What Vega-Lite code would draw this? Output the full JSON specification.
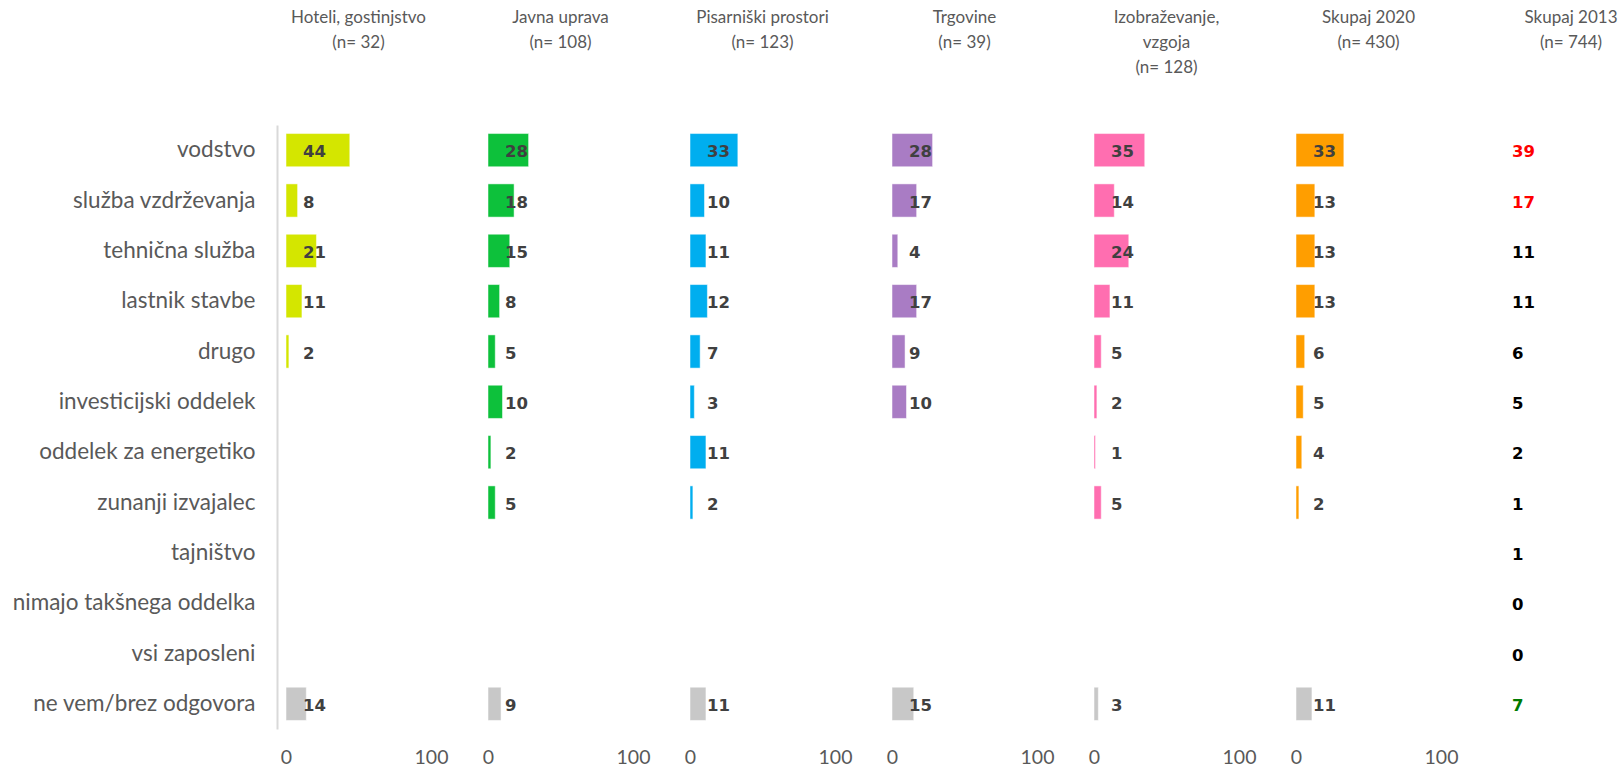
{
  "$schema": "https://vega.github.io/schema/vega-lite/v6.json",
  "padding": {"left": 12, "top": 9, "right": 5, "bottom": 0},
  "background": "white",
  "bounds": "flush",
  "spacing": 57,
  "config": {
    "view": {"stroke": null},
    "title": {"font": "Lato", "fontSize": 17, "fontWeight": "normal", "color": "#595959", "lineHeight": 25, "anchor": "middle"},
    "axisX": {"domain": false, "ticks": false, "grid": false, "title": null, "labelFont": "Lato", "labelFontSize": 19.5, "labelColor": "#595959", "labelPadding": 19, "labelFlush": false}
  },
  "data": {
    "values": [
      {"sector": "Hoteli", "category": "vodstvo", "value": 44},
      {"sector": "Hoteli", "category": "služba vzdrževanja", "value": 8},
      {"sector": "Hoteli", "category": "tehnična služba", "value": 21},
      {"sector": "Hoteli", "category": "lastnik stavbe", "value": 11},
      {"sector": "Hoteli", "category": "drugo", "value": 2},
      {"sector": "Hoteli", "category": "ne vem/brez odgovora", "value": 14},
      {"sector": "Javna", "category": "vodstvo", "value": 28},
      {"sector": "Javna", "category": "služba vzdrževanja", "value": 18},
      {"sector": "Javna", "category": "tehnična služba", "value": 15},
      {"sector": "Javna", "category": "lastnik stavbe", "value": 8},
      {"sector": "Javna", "category": "drugo", "value": 5},
      {"sector": "Javna", "category": "investicijski oddelek", "value": 10},
      {"sector": "Javna", "category": "oddelek za energetiko", "value": 2},
      {"sector": "Javna", "category": "zunanji izvajalec", "value": 5},
      {"sector": "Javna", "category": "ne vem/brez odgovora", "value": 9},
      {"sector": "Pisarniski", "category": "vodstvo", "value": 33},
      {"sector": "Pisarniski", "category": "služba vzdrževanja", "value": 10},
      {"sector": "Pisarniski", "category": "tehnična služba", "value": 11},
      {"sector": "Pisarniski", "category": "lastnik stavbe", "value": 12},
      {"sector": "Pisarniski", "category": "drugo", "value": 7},
      {"sector": "Pisarniski", "category": "investicijski oddelek", "value": 3},
      {"sector": "Pisarniski", "category": "oddelek za energetiko", "value": 11},
      {"sector": "Pisarniski", "category": "zunanji izvajalec", "value": 2},
      {"sector": "Pisarniski", "category": "ne vem/brez odgovora", "value": 11},
      {"sector": "Trgovine", "category": "vodstvo", "value": 28},
      {"sector": "Trgovine", "category": "služba vzdrževanja", "value": 17},
      {"sector": "Trgovine", "category": "tehnična služba", "value": 4},
      {"sector": "Trgovine", "category": "lastnik stavbe", "value": 17},
      {"sector": "Trgovine", "category": "drugo", "value": 9},
      {"sector": "Trgovine", "category": "investicijski oddelek", "value": 10},
      {"sector": "Trgovine", "category": "ne vem/brez odgovora", "value": 15},
      {"sector": "Izobrazevanje", "category": "vodstvo", "value": 35},
      {"sector": "Izobrazevanje", "category": "služba vzdrževanja", "value": 14},
      {"sector": "Izobrazevanje", "category": "tehnična služba", "value": 24},
      {"sector": "Izobrazevanje", "category": "lastnik stavbe", "value": 11},
      {"sector": "Izobrazevanje", "category": "drugo", "value": 5},
      {"sector": "Izobrazevanje", "category": "investicijski oddelek", "value": 2},
      {"sector": "Izobrazevanje", "category": "oddelek za energetiko", "value": 1},
      {"sector": "Izobrazevanje", "category": "zunanji izvajalec", "value": 5},
      {"sector": "Izobrazevanje", "category": "ne vem/brez odgovora", "value": 3},
      {"sector": "Skupaj2020", "category": "vodstvo", "value": 33},
      {"sector": "Skupaj2020", "category": "služba vzdrževanja", "value": 13},
      {"sector": "Skupaj2020", "category": "tehnična služba", "value": 13},
      {"sector": "Skupaj2020", "category": "lastnik stavbe", "value": 13},
      {"sector": "Skupaj2020", "category": "drugo", "value": 6},
      {"sector": "Skupaj2020", "category": "investicijski oddelek", "value": 5},
      {"sector": "Skupaj2020", "category": "oddelek za energetiko", "value": 4},
      {"sector": "Skupaj2020", "category": "zunanji izvajalec", "value": 2},
      {"sector": "Skupaj2020", "category": "ne vem/brez odgovora", "value": 11},
      {"sector": "Skupaj2013", "category": "vodstvo", "value": 39, "change": "višje"},
      {"sector": "Skupaj2013", "category": "služba vzdrževanja", "value": 17, "change": "višje"},
      {"sector": "Skupaj2013", "category": "tehnična služba", "value": 11, "change": "ni razlike"},
      {"sector": "Skupaj2013", "category": "lastnik stavbe", "value": 11, "change": "ni razlike"},
      {"sector": "Skupaj2013", "category": "drugo", "value": 6, "change": "ni razlike"},
      {"sector": "Skupaj2013", "category": "investicijski oddelek", "value": 5, "change": "ni razlike"},
      {"sector": "Skupaj2013", "category": "oddelek za energetiko", "value": 2, "change": "ni razlike"},
      {"sector": "Skupaj2013", "category": "zunanji izvajalec", "value": 1, "change": "ni razlike"},
      {"sector": "Skupaj2013", "category": "tajništvo", "value": 1, "change": "ni razlike"},
      {"sector": "Skupaj2013", "category": "nimajo takšnega oddelka", "value": 0, "change": "ni razlike"},
      {"sector": "Skupaj2013", "category": "vsi zaposleni", "value": 0, "change": "ni razlike"},
      {"sector": "Skupaj2013", "category": "ne vem/brez odgovora", "value": 7, "change": "nižje"}
    ]
  },
  "hconcat": [
    {
      "width": 145, "height": 604,
      "title": {"text": ["Hoteli, gostinjstvo", "(n= 32)"], "offset": 73},
      "transform": [{"filter": "datum.sector === 'Hoteli'"}],
      "encoding": {
        "y": {"field": "category", "type": "nominal", "title": null,
          "scale": {"domain": ["vodstvo", "služba vzdrževanja", "tehnična služba", "lastnik stavbe", "drugo", "investicijski oddelek", "oddelek za energetiko", "zunanji izvajalec", "tajništvo", "nimajo takšnega oddelka", "vsi zaposleni", "ne vem/brez odgovora"], "paddingInner": 0.34, "paddingOuter": 0.17},
          "axis": {"ticks": false, "domainColor": "#D9D9D9", "domainWidth": 2, "offset": 9, "labelPadding": 22, "labelFont": "Lato", "labelFontSize": 22.5, "labelColor": "#595959", "labelLimit": 400}}
      },
      "layer": [
        {"mark": {"type": "bar", "stroke": "white", "strokeOpacity": 0.5, "strokeWidth": 1},
         "encoding": {"x": {"field": "value", "type": "quantitative", "scale": {"domain": [0, 100]}, "axis": {"values": [0, 100]}},
           "color": {"condition": {"test": "datum.category === 'ne vem/brez odgovora'", "value": "#C8C8C8"}, "value": "#D4E600"}}},
        {"mark": {"type": "text", "align": "left", "dx": 17, "dy": 2, "font": "DejaVu Sans", "fontSize": 16.5, "fontWeight": "bold", "color": "#404040"},
         "encoding": {"x": {"datum": 0, "type": "quantitative", "scale": {"domain": [0, 100]}}, "text": {"field": "value", "type": "quantitative"}}}
      ]
    },
    {
      "width": 145, "height": 604,
      "title": {"text": ["Javna uprava", "(n= 108)"], "offset": 73},
      "transform": [{"filter": "datum.sector === 'Javna'"}],
      "encoding": {
        "y": {"field": "category", "type": "nominal", "title": null,
          "scale": {"domain": ["vodstvo", "služba vzdrževanja", "tehnična služba", "lastnik stavbe", "drugo", "investicijski oddelek", "oddelek za energetiko", "zunanji izvajalec", "tajništvo", "nimajo takšnega oddelka", "vsi zaposleni", "ne vem/brez odgovora"], "paddingInner": 0.34, "paddingOuter": 0.17},
          "axis": null}
      },
      "layer": [
        {"mark": {"type": "bar", "stroke": "white", "strokeOpacity": 0.5, "strokeWidth": 1},
         "encoding": {"x": {"field": "value", "type": "quantitative", "scale": {"domain": [0, 100]}, "axis": {"values": [0, 100]}},
           "color": {"condition": {"test": "datum.category === 'ne vem/brez odgovora'", "value": "#C8C8C8"}, "value": "#0DC13B"}}},
        {"mark": {"type": "text", "align": "left", "dx": 17, "dy": 2, "font": "DejaVu Sans", "fontSize": 16.5, "fontWeight": "bold", "color": "#404040"},
         "encoding": {"x": {"datum": 0, "type": "quantitative", "scale": {"domain": [0, 100]}}, "text": {"field": "value", "type": "quantitative"}}}
      ]
    },
    {
      "width": 145, "height": 604,
      "title": {"text": ["Pisarniški prostori", "(n= 123)"], "offset": 73},
      "transform": [{"filter": "datum.sector === 'Pisarniski'"}],
      "encoding": {
        "y": {"field": "category", "type": "nominal", "title": null,
          "scale": {"domain": ["vodstvo", "služba vzdrževanja", "tehnična služba", "lastnik stavbe", "drugo", "investicijski oddelek", "oddelek za energetiko", "zunanji izvajalec", "tajništvo", "nimajo takšnega oddelka", "vsi zaposleni", "ne vem/brez odgovora"], "paddingInner": 0.34, "paddingOuter": 0.17},
          "axis": null}
      },
      "layer": [
        {"mark": {"type": "bar", "stroke": "white", "strokeOpacity": 0.5, "strokeWidth": 1},
         "encoding": {"x": {"field": "value", "type": "quantitative", "scale": {"domain": [0, 100]}, "axis": {"values": [0, 100]}},
           "color": {"condition": {"test": "datum.category === 'ne vem/brez odgovora'", "value": "#C8C8C8"}, "value": "#00AEEF"}}},
        {"mark": {"type": "text", "align": "left", "dx": 17, "dy": 2, "font": "DejaVu Sans", "fontSize": 16.5, "fontWeight": "bold", "color": "#404040"},
         "encoding": {"x": {"datum": 0, "type": "quantitative", "scale": {"domain": [0, 100]}}, "text": {"field": "value", "type": "quantitative"}}}
      ]
    },
    {
      "width": 145, "height": 604,
      "title": {"text": ["Trgovine", "(n= 39)"], "offset": 73},
      "transform": [{"filter": "datum.sector === 'Trgovine'"}],
      "encoding": {
        "y": {"field": "category", "type": "nominal", "title": null,
          "scale": {"domain": ["vodstvo", "služba vzdrževanja", "tehnična služba", "lastnik stavbe", "drugo", "investicijski oddelek", "oddelek za energetiko", "zunanji izvajalec", "tajništvo", "nimajo takšnega oddelka", "vsi zaposleni", "ne vem/brez odgovora"], "paddingInner": 0.34, "paddingOuter": 0.17},
          "axis": null}
      },
      "layer": [
        {"mark": {"type": "bar", "stroke": "white", "strokeOpacity": 0.5, "strokeWidth": 1},
         "encoding": {"x": {"field": "value", "type": "quantitative", "scale": {"domain": [0, 100]}, "axis": {"values": [0, 100]}},
           "color": {"condition": {"test": "datum.category === 'ne vem/brez odgovora'", "value": "#C8C8C8"}, "value": "#A97CC4"}}},
        {"mark": {"type": "text", "align": "left", "dx": 17, "dy": 2, "font": "DejaVu Sans", "fontSize": 16.5, "fontWeight": "bold", "color": "#404040"},
         "encoding": {"x": {"datum": 0, "type": "quantitative", "scale": {"domain": [0, 100]}}, "text": {"field": "value", "type": "quantitative"}}}
      ]
    },
    {
      "width": 145, "height": 604,
      "title": {"text": ["Izobraževanje,", "vzgoja", "(n= 128)"], "offset": 48},
      "transform": [{"filter": "datum.sector === 'Izobrazevanje'"}],
      "encoding": {
        "y": {"field": "category", "type": "nominal", "title": null,
          "scale": {"domain": ["vodstvo", "služba vzdrževanja", "tehnična služba", "lastnik stavbe", "drugo", "investicijski oddelek", "oddelek za energetiko", "zunanji izvajalec", "tajništvo", "nimajo takšnega oddelka", "vsi zaposleni", "ne vem/brez odgovora"], "paddingInner": 0.34, "paddingOuter": 0.17},
          "axis": null}
      },
      "layer": [
        {"mark": {"type": "bar", "stroke": "white", "strokeOpacity": 0.5, "strokeWidth": 1},
         "encoding": {"x": {"field": "value", "type": "quantitative", "scale": {"domain": [0, 100]}, "axis": {"values": [0, 100]}},
           "color": {"condition": {"test": "datum.category === 'ne vem/brez odgovora'", "value": "#C8C8C8"}, "value": "#FF6EB0"}}},
        {"mark": {"type": "text", "align": "left", "dx": 17, "dy": 2, "font": "DejaVu Sans", "fontSize": 16.5, "fontWeight": "bold", "color": "#404040"},
         "encoding": {"x": {"datum": 0, "type": "quantitative", "scale": {"domain": [0, 100]}}, "text": {"field": "value", "type": "quantitative"}}}
      ]
    },
    {
      "width": 145, "height": 604,
      "title": {"text": ["Skupaj 2020", "(n= 430)"], "offset": 73},
      "transform": [{"filter": "datum.sector === 'Skupaj2020'"}],
      "encoding": {
        "y": {"field": "category", "type": "nominal", "title": null,
          "scale": {"domain": ["vodstvo", "služba vzdrževanja", "tehnična služba", "lastnik stavbe", "drugo", "investicijski oddelek", "oddelek za energetiko", "zunanji izvajalec", "tajništvo", "nimajo takšnega oddelka", "vsi zaposleni", "ne vem/brez odgovora"], "paddingInner": 0.34, "paddingOuter": 0.17},
          "axis": null}
      },
      "layer": [
        {"mark": {"type": "bar", "stroke": "white", "strokeOpacity": 0.5, "strokeWidth": 1},
         "encoding": {"x": {"field": "value", "type": "quantitative", "scale": {"domain": [0, 100]}, "axis": {"values": [0, 100]}},
           "color": {"condition": {"test": "datum.category === 'ne vem/brez odgovora'", "value": "#C8C8C8"}, "value": "#FF9E00"}}},
        {"mark": {"type": "text", "align": "left", "dx": 17, "dy": 2, "font": "DejaVu Sans", "fontSize": 16.5, "fontWeight": "bold", "color": "#404040"},
         "encoding": {"x": {"datum": 0, "type": "quantitative", "scale": {"domain": [0, 100]}}, "text": {"field": "value", "type": "quantitative"}}}
      ]
    },
    {
      "width": 110, "height": 604,
      "title": {"text": ["Skupaj 2013", "(n= 744)"], "offset": 73, "dx": 18},
      "transform": [{"filter": "datum.sector === 'Skupaj2013'"}],
      "mark": {"type": "text", "align": "left", "dx": 14, "dy": 2, "font": "DejaVu Sans", "fontSize": 16.5, "fontWeight": "bold"},
      "encoding": {
        "y": {"field": "category", "type": "nominal", "title": null,
          "scale": {"domain": ["vodstvo", "služba vzdrževanja", "tehnična služba", "lastnik stavbe", "drugo", "investicijski oddelek", "oddelek za energetiko", "zunanji izvajalec", "tajništvo", "nimajo takšnega oddelka", "vsi zaposleni", "ne vem/brez odgovora"], "paddingInner": 0.34, "paddingOuter": 0.17},
          "axis": null},
        "x": {"datum": 0, "type": "quantitative", "scale": {"domain": [0, 100]}, "axis": null},
        "text": {"field": "value", "type": "quantitative"},
        "color": {"field": "change", "type": "nominal", "legend": null,
          "scale": {"domain": ["višje", "ni razlike", "nižje"], "range": ["#FF0000", "#000000", "#007A00"]}}
      }
    }
  ]
}
